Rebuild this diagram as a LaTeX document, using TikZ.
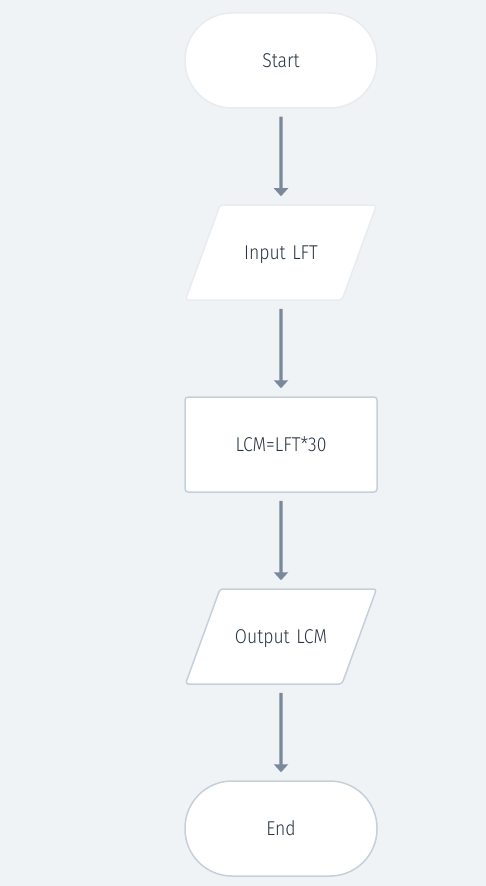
\documentclass[tikz,border=0pt]{standalone}
\usepackage{fontspec}
\setmainfont{Fira Sans}[UprightFont={* Light}, FakeStretch=0.88]
\usepackage{xcolor}
\usetikzlibrary{positioning,shapes.geometric,arrows.meta}
\definecolor{bgcol}{RGB}{240,243,246}
\definecolor{edgecol}{RGB}{197,208,219}
\definecolor{faintcol}{RGB}{232,236,240}
\definecolor{arrowcol}{RGB}{122,137,153}
\definecolor{txtcol}{RGB}{40,52,66}

\begin{document}
\begin{tikzpicture}[x=1pt, y=1pt, node distance=95.5pt,
  font=\fontsize{20}{22}\selectfont, text=txtcol,
  terminal/.style={rectangle, rounded corners=47pt, minimum width=192pt, minimum height=95pt, fill=white, line width=1.5pt},
  io/.style={trapezium, trapezium left angle=70, trapezium right angle=110, inner xsep=0pt, inner ysep=39.5pt, text width=122pt, align=center, text height=15pt, text depth=1pt, rounded corners=3pt, fill=white, line width=1.5pt},
  process/.style={rectangle, rounded corners=3pt, minimum width=192pt, minimum height=95pt, fill=white, draw=edgecol, line width=1.5pt},
  flowarrow/.style={draw=arrowcol, line width=3.3pt, shorten >=8pt, shorten <=8pt, -{Triangle[width=14pt,length=8pt]}}]
\fill[bgcol] (0,0) rectangle (486,886);
\useasboundingbox (0,0) rectangle (486,886);
% flowchart
\node[terminal, draw=faintcol] (start) at (281,825.5) {Start};
\node[io, draw=faintcol, below=of start] (input) {Input LFT};
\node[process, below=of input] (calc) {LCM=LFT*30};
\node[io, draw=edgecol, below=of calc] (output) {Output LCM};
\node[terminal, draw=edgecol, below=of output] (end) {End};
% connectors
\draw[flowarrow] (start) -- (input);
\draw[flowarrow] (input) -- (calc);
\draw[flowarrow] (calc) -- (output);
\draw[flowarrow] (output) -- (end);
\end{tikzpicture}
\end{document}
